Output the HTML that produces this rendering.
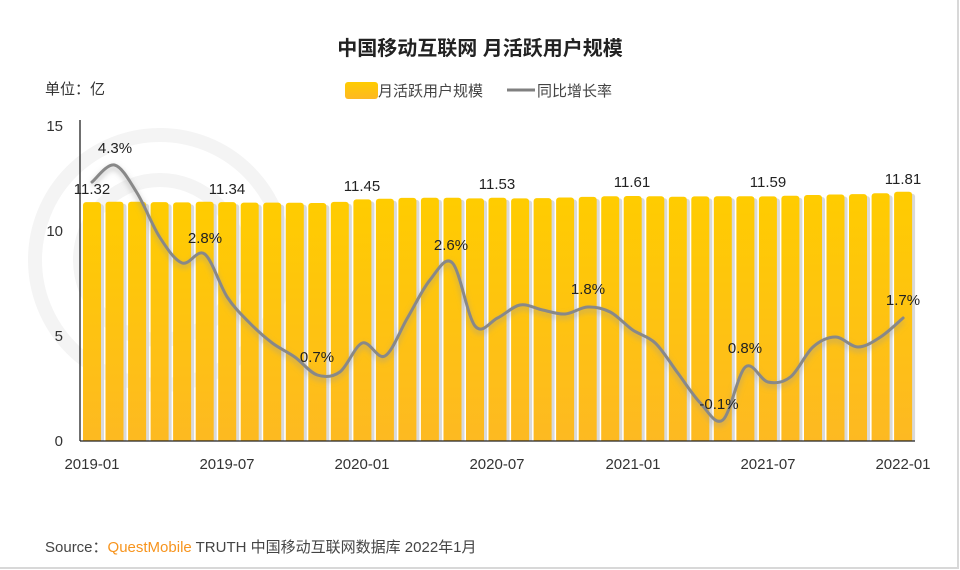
<!DOCTYPE html>
<html><head><meta charset="utf-8"><style>
html,body{margin:0;padding:0;background:#fff;}
body{width:960px;height:570px;overflow:hidden;position:relative;font-family:"Liberation Sans","Noto Sans CJK SC",sans-serif;}
.frame{position:absolute;left:0;top:0;width:957px;height:567px;border-right:2px solid #d8d8d8;border-bottom:2px solid #d8d8d8;}
</style></head><body>
<div class="frame"></div>
<svg width="960" height="570" style="position:absolute;left:0;top:0" font-family="Liberation Sans, Noto Sans CJK SC, sans-serif">
<defs>
<linearGradient id="g" x1="0" y1="0" x2="0" y2="1"><stop offset="0" stop-color="#ffcc00"/><stop offset="1" stop-color="#fdb824"/></linearGradient>
<filter id="f" x="-20%" y="-20%" width="140%" height="140%"><feGaussianBlur stdDeviation="3"/></filter>
<clipPath id="cp"><rect x="0" y="0" width="960" height="441"/></clipPath>
<g id="bb">
<rect x="83.0" y="202.1" width="18" height="260" rx="3"/>
<rect x="105.5" y="201.7" width="18" height="260" rx="3"/>
<rect x="128.1" y="201.7" width="18" height="260" rx="3"/>
<rect x="150.6" y="202.1" width="18" height="260" rx="3"/>
<rect x="173.1" y="202.4" width="18" height="260" rx="3"/>
<rect x="195.7" y="201.7" width="18" height="260" rx="3"/>
<rect x="218.2" y="202.1" width="18" height="260" rx="3"/>
<rect x="240.7" y="202.6" width="18" height="260" rx="3"/>
<rect x="263.2" y="202.6" width="18" height="260" rx="3"/>
<rect x="285.8" y="202.8" width="18" height="260" rx="3"/>
<rect x="308.3" y="203.0" width="18" height="260" rx="3"/>
<rect x="330.8" y="201.9" width="18" height="260" rx="3"/>
<rect x="353.4" y="199.4" width="18" height="260" rx="3"/>
<rect x="375.9" y="198.8" width="18" height="260" rx="3"/>
<rect x="398.4" y="197.9" width="18" height="260" rx="3"/>
<rect x="420.9" y="197.7" width="18" height="260" rx="3"/>
<rect x="443.5" y="197.7" width="18" height="260" rx="3"/>
<rect x="466.0" y="198.4" width="18" height="260" rx="3"/>
<rect x="488.5" y="197.7" width="18" height="260" rx="3"/>
<rect x="511.1" y="198.4" width="18" height="260" rx="3"/>
<rect x="533.6" y="198.1" width="18" height="260" rx="3"/>
<rect x="556.1" y="197.5" width="18" height="260" rx="3"/>
<rect x="578.7" y="196.9" width="18" height="260" rx="3"/>
<rect x="601.2" y="196.2" width="18" height="260" rx="3"/>
<rect x="623.7" y="196.0" width="18" height="260" rx="3"/>
<rect x="646.3" y="196.2" width="18" height="260" rx="3"/>
<rect x="668.8" y="196.7" width="18" height="260" rx="3"/>
<rect x="691.3" y="196.4" width="18" height="260" rx="3"/>
<rect x="713.8" y="196.2" width="18" height="260" rx="3"/>
<rect x="736.4" y="196.2" width="18" height="260" rx="3"/>
<rect x="758.9" y="196.4" width="18" height="260" rx="3"/>
<rect x="781.4" y="195.8" width="18" height="260" rx="3"/>
<rect x="804.0" y="195.0" width="18" height="260" rx="3"/>
<rect x="826.5" y="194.5" width="18" height="260" rx="3"/>
<rect x="849.0" y="194.1" width="18" height="260" rx="3"/>
<rect x="871.6" y="193.3" width="18" height="260" rx="3"/>
<rect x="894.1" y="191.8" width="18" height="260" rx="3"/>
</g>
</defs>
<text x="480" y="55" text-anchor="middle" font-size="20" font-weight="bold" fill="#222">中国移动互联网 月活跃用户规模</text>
<text x="45" y="94" font-size="15" fill="#333">单位：亿</text>
<rect x="345" y="82" width="33" height="17" rx="3" fill="url(#g)"/>
<text x="378" y="96" font-size="15" fill="#444">月活跃用户规模</text>
<line x1="507" y1="90" x2="535" y2="90" stroke="#808080" stroke-width="3"/>
<text x="537" y="96" font-size="15" fill="#444">同比增长率</text>
<g fill="none" stroke="#f4f4f4" stroke-width="14">
<circle cx="160" cy="260" r="125"/>
<circle cx="160" cy="260" r="80"/>
</g>
<g clip-path="url(#cp)">
<use href="#bb" fill="#d9d9d9" transform="translate(3,2)"/>
<use href="#bb" fill="url(#g)"/>
</g>
<line x1="80" y1="120" x2="80" y2="441" stroke="#222" stroke-width="1.3"/>
<line x1="80" y1="441" x2="915" y2="441" stroke="#222" stroke-width="1.3"/>
<g font-size="15" fill="#333" text-anchor="end">
<text x="63" y="131">15</text><text x="63" y="236">10</text><text x="63" y="341">5</text><text x="63" y="446">0</text>
</g>
<g font-size="15" fill="#333" text-anchor="middle">
<text x="92" y="469">2019-01</text><text x="227" y="469">2019-07</text><text x="362" y="469">2020-01</text><text x="497" y="469">2020-07</text><text x="633" y="469">2021-01</text><text x="768" y="469">2021-07</text><text x="903" y="469">2022-01</text>
</g>
<path id="shadow" fill="none" stroke="#999" stroke-opacity="0.5" stroke-width="4" filter="url(#f)" transform="translate(0,3)"/>
<path id="line" fill="none" stroke="#888" stroke-width="3" stroke-linecap="round"/>
<g font-size="15" fill="#222" text-anchor="middle">
<text x="92" y="194">11.32</text><text x="227" y="194">11.34</text><text x="362" y="191">11.45</text><text x="497" y="189">11.53</text><text x="632" y="187">11.61</text><text x="768" y="187">11.59</text><text x="903" y="184">11.81</text>
<text x="115" y="153">4.3%</text><text x="205" y="243">2.8%</text><text x="317" y="362">0.7%</text><text x="451" y="250">2.6%</text><text x="588" y="294">1.8%</text><text x="719" y="409">-0.1%</text><text x="745" y="353">0.8%</text><text x="903" y="305">1.7%</text>
</g>
<text x="45" y="552" font-size="15" fill="#444">Source：<tspan fill="#f7941d">QuestMobile</tspan> TRUTH 中国移动互联网数据库 2022年1月</text>
</svg>
<script>
var ly=[182,165,193,237,263,254,297,323,343,357,375,372,343,356,318,280,263,326,318,305,310,314,307,312,330,343,373,403,420,367,382,377,347,337,347,337,318];
var pts=[];for(var i=0;i<37;i++)pts.push([92+i*22.53,ly[i]]);
var d="M"+pts[0][0]+","+pts[0][1];
for(var i=0;i<pts.length-1;i++){var p0=pts[Math.max(0,i-1)],p1=pts[i],p2=pts[i+1],p3=pts[Math.min(pts.length-1,i+2)];
d+=" C"+(p1[0]+(p2[0]-p0[0])/6)+","+(p1[1]+(p2[1]-p0[1])/6)+" "+(p2[0]-(p3[0]-p1[0])/6)+","+(p2[1]-(p3[1]-p1[1])/6)+" "+p2[0]+","+p2[1];}
document.getElementById("line").setAttribute("d",d);document.getElementById("shadow").setAttribute("d",d);
</script>
</body></html>
